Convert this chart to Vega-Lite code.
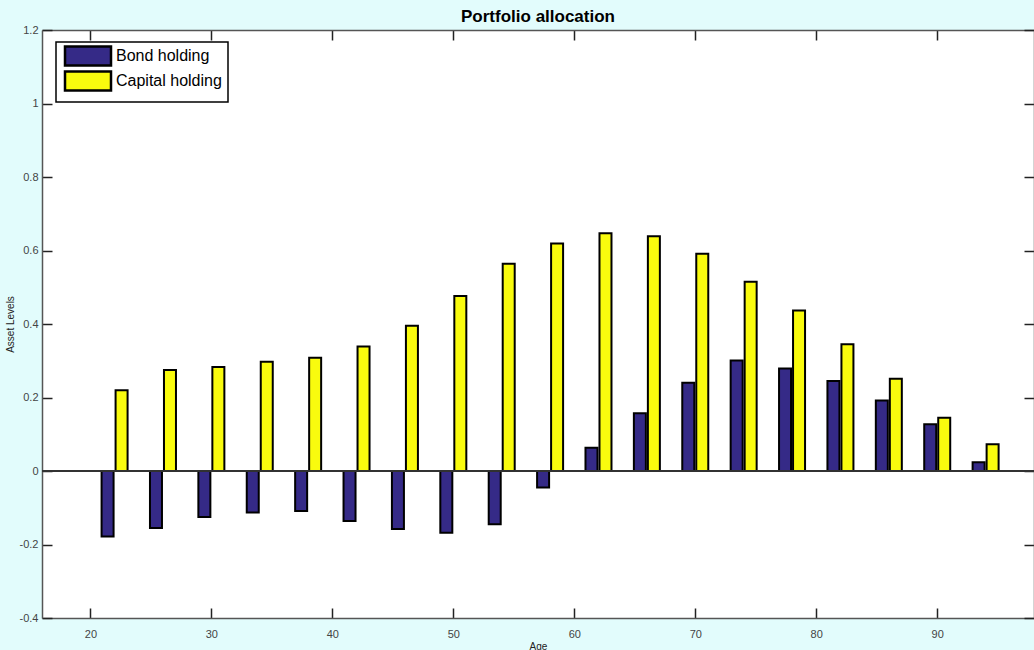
{
  "$schema": "https://vega.github.io/schema/vega-lite/v6.json",
  "width": 992,
  "height": 588,
  "autosize": {"type": "none"},
  "padding": {"left": 42, "top": 30, "right": 0, "bottom": 32},
  "background": "#e2fcfc",
  "title": {"text": "Portfolio allocation", "font": "Liberation Sans", "fontSize": 17, "fontWeight": "bold", "color": "black", "anchor": "middle", "offset": -2},
  "data": {"values": [
    {"age": 22, "series": "Bond holding", "value": -0.178},
    {"age": 26, "series": "Bond holding", "value": -0.155},
    {"age": 30, "series": "Bond holding", "value": -0.125},
    {"age": 34, "series": "Bond holding", "value": -0.113},
    {"age": 38, "series": "Bond holding", "value": -0.109},
    {"age": 42, "series": "Bond holding", "value": -0.136},
    {"age": 46, "series": "Bond holding", "value": -0.158},
    {"age": 50, "series": "Bond holding", "value": -0.168},
    {"age": 54, "series": "Bond holding", "value": -0.145},
    {"age": 58, "series": "Bond holding", "value": -0.045},
    {"age": 62, "series": "Bond holding", "value": 0.063},
    {"age": 66, "series": "Bond holding", "value": 0.157},
    {"age": 70, "series": "Bond holding", "value": 0.240},
    {"age": 74, "series": "Bond holding", "value": 0.301},
    {"age": 78, "series": "Bond holding", "value": 0.279},
    {"age": 82, "series": "Bond holding", "value": 0.245},
    {"age": 86, "series": "Bond holding", "value": 0.192},
    {"age": 90, "series": "Bond holding", "value": 0.127},
    {"age": 94, "series": "Bond holding", "value": 0.024},
    {"age": 22, "series": "Capital holding", "value": 0.220},
    {"age": 26, "series": "Capital holding", "value": 0.275},
    {"age": 30, "series": "Capital holding", "value": 0.283},
    {"age": 34, "series": "Capital holding", "value": 0.297},
    {"age": 38, "series": "Capital holding", "value": 0.308},
    {"age": 42, "series": "Capital holding", "value": 0.339},
    {"age": 46, "series": "Capital holding", "value": 0.395},
    {"age": 50, "series": "Capital holding", "value": 0.476},
    {"age": 54, "series": "Capital holding", "value": 0.564},
    {"age": 58, "series": "Capital holding", "value": 0.619},
    {"age": 62, "series": "Capital holding", "value": 0.647},
    {"age": 66, "series": "Capital holding", "value": 0.639},
    {"age": 70, "series": "Capital holding", "value": 0.591},
    {"age": 74, "series": "Capital holding", "value": 0.515},
    {"age": 78, "series": "Capital holding", "value": 0.437},
    {"age": 82, "series": "Capital holding", "value": 0.345},
    {"age": 86, "series": "Capital holding", "value": 0.251},
    {"age": 90, "series": "Capital holding", "value": 0.145},
    {"age": 94, "series": "Capital holding", "value": 0.073}
  ]},
  "layer": [
    {
      "transform": [{"filter": "datum.series == 'Bond holding'"}],
      "mark": {"type": "bar", "orient": "vertical", "width": 12, "xOffset": -7, "stroke": "black", "strokeWidth": 2, "opacity": 1},
      "encoding": {
        "x": {"field": "age", "type": "quantitative", "scale": {"domain": [16, 98], "nice": false, "zero": false, "padding": 0},
              "axis": {"orient": "bottom", "title": "Age", "values": [20, 30, 40, 50, 60, 70, 80, 90], "format": "d", "labelPadding": 20, "titlePadding": 2}},
        "y": {"field": "value", "type": "quantitative", "stack": null, "scale": {"domain": [-0.4, 1.2], "nice": false},
              "axis": {"orient": "left", "title": "Asset Levels", "values": [-0.4, -0.2, 0, 0.2, 0.4, 0.6, 0.8, 1, 1.2], "labelExpr": "'' + datum.value", "labelPadding": 14, "titlePadding": 4}},
        "color": {"field": "series", "type": "nominal", "scale": {"domain": ["Bond holding", "Capital holding"], "range": ["#352a87", "#f9fb0e"]},
                  "legend": {"title": null, "orient": "none", "legendX": 14, "legendY": 12}}
      }
    },
    {
      "transform": [{"filter": "datum.series == 'Capital holding'"}],
      "mark": {"type": "bar", "orient": "vertical", "width": 12, "xOffset": 7, "stroke": "black", "strokeWidth": 2, "opacity": 1},
      "encoding": {
        "x": {"field": "age", "type": "quantitative", "axis": {"orient": "top", "title": null, "labels": false, "values": [20, 30, 40, 50, 60, 70, 80, 90]}},
        "y": {"field": "value", "type": "quantitative", "stack": null, "axis": {"orient": "right", "title": null, "labels": false, "values": [-0.4, -0.2, 0, 0.2, 0.4, 0.6, 0.8, 1, 1.2]}},
        "color": {"field": "series", "type": "nominal"}
      }
    },
    {
      "mark": {"type": "rule", "color": "#333333", "strokeWidth": 1.2},
      "encoding": {"y": {"datum": 0, "type": "quantitative", "axis": null}}
    }
  ],
  "resolve": {"axis": {"x": "independent", "y": "independent"}},
  "config": {
    "view": {"fill": "white", "stroke": null},
    "axis": {"grid": false, "domainColor": "#555555", "domainWidth": 1.5, "tickColor": "#222222", "tickWidth": 1.5, "tickSize": -10,
             "labelFont": "Liberation Sans", "labelFontSize": 11, "labelColor": "#444444",
             "titleFont": "Liberation Sans", "titleFontSize": 10, "titleFontWeight": "normal", "titleColor": "#222222"},
    "legend": {"fillColor": "white", "strokeColor": "black", "strokeWidth": 1.5, "padding": 6, "cornerRadius": 0,
               "symbolType": "M-2.5,-4.75H20.5V4.75H-2.5Z", "symbolSize": 16, "symbolStrokeColor": "black", "symbolStrokeWidth": 2.5, "symbolOpacity": 1,
               "labelFont": "Liberation Sans", "labelFontSize": 16, "labelColor": "black", "labelOffset": 38, "rowPadding": -5}
  }
}
